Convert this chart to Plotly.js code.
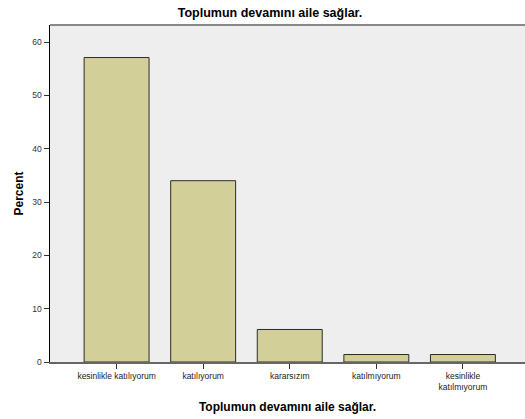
<!DOCTYPE html>
<html>
<head>
<meta charset="utf-8">
<script src="https://cdn.plot.ly/plotly-3.0.1.min.js"></script>
<style>html,body{margin:0;padding:0;background:#fff;}#chart{width:525px;height:419px;}</style>
</head>
<body>
<div id="chart"></div>
<script>
const categories = ["kesinlikle katılıyorum", "katılıyorum", "kararsızım", "katılmıyorum", "kesinlikle<br>katılmıyorum"];
const percentValues = [57.1, 34.0, 6.1, 1.4, 1.4];
const yTickValues = [0, 10, 20, 30, 40, 50, 60];
const chartTitle = "Toplumun devamını aile sağlar.";
const xTitle = "Toplumun devamını aile sağlar.";
const yTitle = "Percent";

const font = "Liberation Sans, Arial, sans-serif";

Plotly.newPlot("chart", [{
  type: "bar",
  x: categories,
  y: percentValues,
  marker: {color: "#d3cf98", line: {color: "#2b2b2b", width: 1}},
  hoverinfo: "none"
}], {
  width: 525, height: 419,
  margin: {l: 50, r: 0, t: 25, b: 57, pad: 0},
  paper_bgcolor: "#ffffff",
  plot_bgcolor: "#eeeeee",
  bargap: 0.25,
  showlegend: false,
  title: {text: "<b>" + chartTitle + "</b>", x: 270/525, xanchor: "center", xref: "container", y: 0.97, yanchor: "middle", yref: "container", font: {family: font, size: 12.5, color: "#000"}},
  xaxis: {
    type: "category",
    range: [-0.769, 4.717],
    showgrid: false, zeroline: false,
    showline: true, linecolor: "#666666", linewidth: 1.5,
    ticks: "outside", ticklen: 5, tickcolor: "#333333", tickwidth: 1,
    tickfont: {family: font, size: 8.5, color: "#222"},
    title: {text: "<b>" + xTitle + "</b>", standoff: 12, font: {family: font, size: 12, color: "#000"}},
    fixedrange: true
  },
  yaxis: {
    range: [0, 63.2],
    tickvals: yTickValues,
    showgrid: false, zeroline: false,
    showline: true, linecolor: "#000000", linewidth: 1.5,
    ticks: "outside", ticklen: 5, tickcolor: "#333333", tickwidth: 1,
    tickfont: {family: font, size: 8.5, color: "#333"},
    title: {text: "<b>" + yTitle + "</b>", standoff: 6, font: {family: font, size: 12, color: "#000"}},
    fixedrange: true
  },
  shapes: [{type: "line", xref: "paper", yref: "paper", x0: 0, x1: 1, y0: 1, y1: 1, line: {color: "#888888", width: 2}}]
}, {staticPlot: true});
</script>
</body>
</html>
